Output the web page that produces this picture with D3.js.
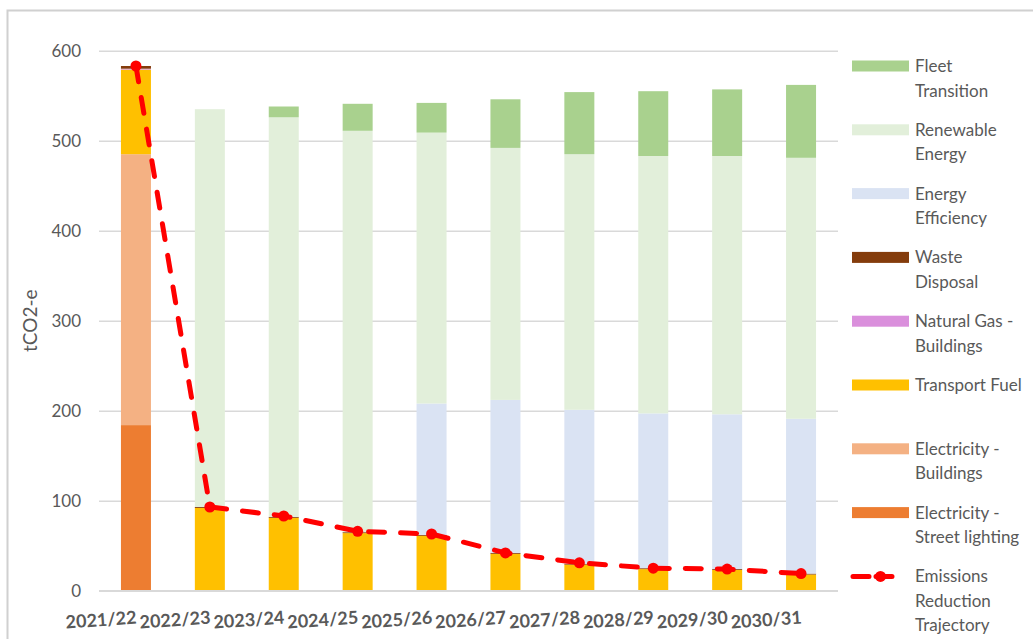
<!DOCTYPE html>
<html>
<head>
<meta charset="utf-8">
<script src="https://cdn.jsdelivr.net/npm/d3@7/dist/d3.min.js"></script>
<style>
  html, body { margin: 0; padding: 0; background: #fff; }
  svg { display: block; font-family: Lato, "Open Sans", sans-serif; }
</style>
</head>
<body>
<svg id="chart" width="1033" height="639"></svg>
<script>
// Financial years
const years = ["2021/22", "2022/23", "2023/24", "2024/25", "2025/26", "2026/27", "2027/28", "2028/29", "2029/30", "2030/31"];

// Emission sources and abatement wedges, tCO2-e (stacked bottom to top)
const streetLighting  = [184, 0, 0, 0, 0, 0, 0, 0, 0, 0];
const elecBuildings   = [301, 0, 0, 0, 0, 0, 0, 0, 0, 0];
const transportFuel   = [94, 92, 81, 64, 61, 41, 29, 24, 23, 18];
const naturalGas      = [1, 0, 0, 0, 0, 0, 0, 0, 0, 0];
const wasteDisposal   = [3, 1, 1, 1, 1, 1, 1, 1, 1, 1];
const energyEfficiency = [0, 0, 0, 0, 146, 170, 171, 172, 172, 172];
const renewableEnergy = [0, 442, 444, 446, 301, 280, 284, 286, 287, 290];
const fleetTransition = [0, 0, 12, 30, 33, 54, 69, 72, 74, 81];

// Remaining emissions after reductions
const trajectory = [583, 93, 83, 66, 63, 42, 31, 25, 24, 19];

const yTicks = [0, 100, 200, 300, 400, 500, 600];

const series = [
  { key: "street",     label: ["Electricity -", "Street lighting"], color: "#ED7D31", values: streetLighting },
  { key: "buildings",  label: ["Electricity -", "Buildings"],       color: "#F4B183", values: elecBuildings },
  { key: "transport",  label: ["Transport Fuel"],                   color: "#FFC000", values: transportFuel },
  { key: "gas",        label: ["Natural Gas -", "Buildings"],       color: "#DA8FDC", values: naturalGas },
  { key: "waste",      label: ["Waste", "Disposal"],                color: "#843C0C", values: wasteDisposal },
  { key: "efficiency", label: ["Energy", "Efficiency"],             color: "#DAE3F3", values: energyEfficiency },
  { key: "renewable",  label: ["Renewable", "Energy"],              color: "#E2EFDA", values: renewableEnergy },
  { key: "fleet",      label: ["Fleet", "Transition"],              color: "#A9D18E", values: fleetTransition }
];

const rows = years.map((yr, i) => {
  const r = { year: yr };
  series.forEach(s => { r[s.key] = s.values[i]; });
  return r;
});

const svg = d3.select("#chart");

// Outer chart frame
svg.append("rect")
  .attr("x", 7.5).attr("y", 10.5)
  .attr("width", 1040).attr("height", 640)
  .attr("fill", "none").attr("stroke", "#D0D0D0").attr("stroke-width", 2);

const plot = { left: 99, right: 838, top: 50.7, bottom: 590.7 };

const x = d3.scaleBand()
  .domain(years)
  .range([plot.left, plot.right])
  .paddingInner(0.594)
  .paddingOuter(0.297);

const y = d3.scaleLinear()
  .domain([0, 600])
  .range([plot.bottom, plot.top]);

// Gridlines and y tick labels
const yAxis = svg.append("g")
  .attr("transform", `translate(${plot.left},0)`)
  .call(d3.axisLeft(y).tickValues(yTicks).tickSize(-(plot.right - plot.left)).tickPadding(18));
yAxis.select(".domain").remove();
yAxis.selectAll(".tick line").attr("stroke", "#D9D9D9").attr("stroke-width", 1.6);
yAxis.selectAll(".tick text")
  .attr("fill", "#595959")
  .style("font-size", "17px")
  .style("font-family", "Lato, sans-serif")
  .attr("dy", "0.36em");

// Axis title
svg.append("text")
  .attr("transform", `translate(37, ${(plot.top + plot.bottom) / 2}) rotate(-90)`)
  .attr("text-anchor", "middle")
  .attr("fill", "#595959")
  .style("font-size", "19px")
  .text("tCO2-e");

// Stacked bars
const stack = d3.stack().keys(series.map(s => s.key));
const stacked = stack(rows);

const layers = svg.append("g").selectAll("g")
  .data(stacked)
  .join("g")
  .attr("fill", (d, i) => series[i].color);

layers.selectAll("rect")
  .data(d => d.map(v => ({ v, year: v.data.year })))
  .join("rect")
  .attr("x", d => x(d.year))
  .attr("width", x.bandwidth())
  .attr("y", d => y(d.v[1]))
  .attr("height", d => Math.max(0, y(d.v[0]) - y(d.v[1])));

// Category axis
const xAxis = svg.append("g")
  .attr("transform", `translate(0,${plot.bottom})`)
  .call(d3.axisBottom(x).tickSize(0));
xAxis.select(".domain").attr("stroke", "#D9D9D9").attr("stroke-width", 1.6)
  .attr("d", `M${plot.left},0H${plot.right}`);
xAxis.selectAll(".tick text")
  .attr("text-anchor", "end")
  .attr("x", 1)
  .attr("y", 0)
  .attr("dy", 0)
  .attr("transform", "translate(0,33) rotate(-4)")
  .attr("fill", "#595959")
  .style("font-size", "18px")
  .style("font-weight", "bold")
  .style("font-family", "Lato, sans-serif");

// Emissions reduction trajectory
const cx = d => x(d.year) + x.bandwidth() / 2;
const trajData = years.map((yr, i) => ({ year: yr, value: trajectory[i] }));

svg.append("path")
  .datum(trajData)
  .attr("fill", "none")
  .attr("stroke", "#FF0000")
  .attr("stroke-width", 5)
  .attr("stroke-dasharray", "16,16")
  .attr("stroke-linecap", "round")
  .attr("d", d3.line().x(cx).y(d => y(d.value)));

svg.append("g").selectAll("circle")
  .data(trajData)
  .join("circle")
  .attr("cx", cx)
  .attr("cy", d => y(d.value))
  .attr("r", 5.5)
  .attr("fill", "#FF0000");

// Legend
const legendItems = series.slice().reverse()
  .map(s => ({ label: s.label, color: s.color, type: "bar" }))
  .concat([{ label: ["Emissions", "Reduction", "Trajectory"], color: "#FF0000", type: "line" }]);

const legend = svg.append("g");
const lg = legend.selectAll("g")
  .data(legendItems)
  .join("g")
  .attr("transform", (d, i) => `translate(852, ${66 + i * 63.8})`);

lg.filter(d => d.type === "bar").append("rect")
  .attr("x", 0).attr("y", -5.5)
  .attr("width", 57).attr("height", 11)
  .attr("fill", d => d.color);

const lineItem = lg.filter(d => d.type === "line");
lineItem.append("line")
  .attr("x1", 1).attr("x2", 56).attr("y1", 0).attr("y2", 0)
  .attr("stroke", "#FF0000").attr("stroke-width", 5)
  .attr("stroke-dasharray", "16,7,16")
  .attr("stroke-linecap", "round");
lineItem.append("circle")
  .attr("cx", 28.5).attr("cy", 0).attr("r", 5.5).attr("fill", "#FF0000");

lg.append("text")
  .attr("x", 63)
  .attr("y", 6)
  .attr("fill", "#595959")
  .style("font-size", "17px")
  .selectAll("tspan")
  .data(d => d.label)
  .join("tspan")
  .attr("x", 63)
  .attr("dy", (d, i) => i === 0 ? 0 : 24.5)
  .text(d => d);
</script>
</body>
</html>
